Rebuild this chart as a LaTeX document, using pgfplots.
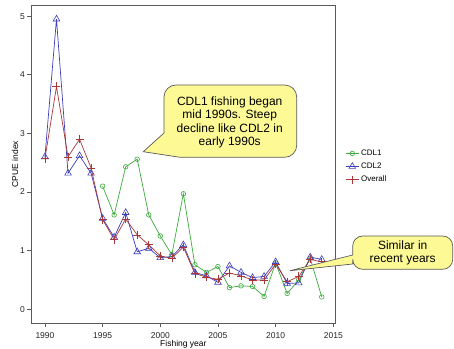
\documentclass[border=0pt]{standalone}
\usepackage{pgfplots}
\pgfplotsset{compat=1.18}
\usepackage{fontspec}
\setmainfont{Liberation Sans}
\definecolor{cgreen}{RGB}{60,170,60}
\definecolor{cblue}{RGB}{60,60,190}
\definecolor{cred}{RGB}{170,55,55}
\definecolor{cfill}{RGB}{253,250,150}
\definecolor{cframe}{RGB}{90,90,90}
\begin{document}
\begin{tikzpicture}[x=1pt,y=1pt]
\path[use as bounding box] (0,0) rectangle (454,348);
\begin{axis}[
  at={(31pt,24.7pt)}, anchor=south west,
  scale only axis, width=304.7pt, height=318.3pt,
  xmin=1988.79, xmax=2015.21, ymin=-0.239, ymax=5.19,
  xtick={1990,1995,...,2015}, ytick={0,1,...,5},
  /pgf/number format/assume math mode=true,
  /pgf/number format/1000 sep={},
  tick align=outside, tick pos=left,
  major tick length=4pt,
  axis line style={cframe, line width=0.8pt},
  every tick/.style={cframe, line width=0.8pt},
  ticklabel style={font=\fontsize{8.5}{10}\selectfont, text=black!85},
  xticklabel style={yshift=-1.5pt},
  yticklabel style={xshift=1.5pt},
  xlabel={Fishing year}, ylabel={CPUE index},
  label style={font=\fontsize{8.5}{10}\selectfont},
  xlabel style={at={(axis description cs:0.5,0)}, anchor=center, yshift=-21pt},
  ylabel style={at={(axis description cs:-0.0525,0.5)}, anchor=center},
  clip=false,
  legend style={draw=none, fill=none, at={(axis description cs:1.028,0.555)}, anchor=north west,
    font=\fontsize{8}{9.5}\selectfont, row sep=2pt, inner sep=1pt},
  legend cell align=left,
  legend image code/.code={\draw[mark repeat=2,mark phase=2,#1] plot coordinates {(0pt,0pt) (6.5pt,0pt) (13pt,0pt)};},
]
\addplot[cgreen, line width=0.7pt, mark=o, mark size=2.3pt, mark options={line width=0.6pt}] coordinates {
(1995,2.10) (1996,1.61) (1997,2.43) (1998,2.56) (1999,1.61) (2000,1.25) (2001,0.93) (2002,1.97)
(2003,0.76) (2004,0.63) (2005,0.73) (2006,0.37) (2007,0.40) (2008,0.39) (2009,0.22) (2010,0.79)
(2011,0.27) (2012,0.50) (2013,0.87) (2014,0.21)};
\addlegendentry{CDL1}
\addplot[cblue, line width=0.7pt, mark=triangle, mark size=3.8pt, mark options={line width=0.6pt}] coordinates {
(1990,2.60) (1991,4.95) (1992,2.32) (1993,2.62) (1994,2.32) (1995,1.55) (1996,1.23) (1997,1.65)
(1998,0.98) (1999,1.04) (2000,0.88) (2001,0.90) (2002,1.10) (2003,0.63) (2004,0.57) (2005,0.46)
(2006,0.74) (2007,0.63) (2008,0.54) (2009,0.56) (2010,0.81) (2011,0.44) (2012,0.45) (2013,0.89) (2014,0.85)};
\addlegendentry{CDL2}
\addplot[cred, line width=0.7pt, mark=+, mark size=4pt, mark options={line width=0.6pt}] coordinates {
(1990,2.57) (1991,3.80) (1992,2.60) (1993,2.90) (1994,2.41) (1995,1.53) (1996,1.19) (1997,1.54)
(1998,1.27) (1999,1.10) (2000,0.91) (2001,0.87) (2002,1.06) (2003,0.61) (2004,0.55) (2005,0.51)
(2006,0.62) (2007,0.57) (2008,0.50) (2009,0.50) (2010,0.77) (2011,0.47) (2012,0.56) (2013,0.85) (2014,0.81)};
\addlegendentry{Overall}
\end{axis}
% callout 1
\draw[fill=cfill, draw=cframe, line width=0.7pt] (164,215) -- (143.3,196.3) -- (180,190.7)
  {[rounded corners=12pt] -- (296.7,190.7) -- (296.7,263) -- (164,263)} -- cycle;
\node[align=center, font=\fontsize{12}{13.3}\selectfont] at (229.7,225.7)
  {CDL1 fishing began\\mid 1990s. Steep\\decline like CDL2 in\\early 1990s};
% callout 2
\draw[fill=cfill, draw=cframe, line width=0.7pt] (352.7,84) -- (290,77.3) -- (352.7,93)
  {[rounded corners=10pt] -- (352.7,112) -- (452.7,112) -- (452.7,78.7) -- (352.7,78.7)} -- cycle;
\node[align=center, font=\fontsize{12}{13.3}\selectfont] at (402.7,95.3)
  {Similar in\\recent years};
\end{tikzpicture}
\end{document}
